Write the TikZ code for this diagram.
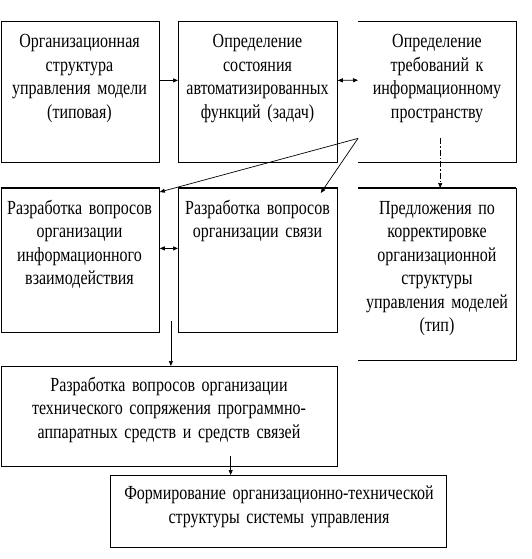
\documentclass[tikz,border=0pt]{standalone}
\usepackage{fontspec}
\setmainfont{Liberation Serif}[FakeStretch=0.8]
\usetikzlibrary{arrows.meta,calc}
\begin{document}
\begin{tikzpicture}[x=1pt,y=-1pt,
  frame/.style={line width=0.8pt},
  boxnode/.style={draw, frame, inner sep=0pt, anchor=north west},
  openbox/.style={inner sep=0pt, anchor=north west},
  txt/.style={font=\fontsize{20}{23.5}\selectfont, align=center, text width=230pt, inner sep=0pt, anchor=base},
  arr/.style={line width=0.7pt, -{Triangle[length=5pt,width=4pt]}},
  darr/.style={line width=0.7pt, {Triangle[length=5pt,width=4pt]}-{Triangle[length=5pt,width=4pt]}},
  dashdot/.style={line width=0.6pt, dash pattern=on 6pt off 2pt on 1.5pt off 2pt, -{Triangle[length=5pt,width=4pt]}},
  thicktop/.style={line width=1.8pt}]
\useasboundingbox (0,0) rectangle (531,559);
% boxes
\node[boxnode, minimum width=158.5pt, minimum height=141pt] (b1) at (0.5,21) {};
\node[boxnode, minimum width=159pt, minimum height=141pt] (b2) at (178,21) {};
\node[openbox, minimum width=158pt, minimum height=141pt] (b3) at (358,21) {};
\draw[frame] (b3.north west) -- (b3.north east) -- (b3.south east) -- (b3.south west);
\node[boxnode, minimum width=158.5pt, minimum height=144pt] (b4) at (0.5,188) {};
\node[boxnode, minimum width=159pt, minimum height=144pt] (b5) at (178,188) {};
\node[openbox, minimum width=158pt, minimum height=172pt] (b6) at (358,188) {};
\draw[frame] (b6.north west) -- (b6.north east) -- (b6.south east) -- (b6.south west);
\draw[thicktop] (b4.north west) -- (b4.north east);
\draw[thicktop] (b5.north west) -- (b5.north east);
\draw[thicktop] (b6.north west) -- (b6.north east);
\node[boxnode, minimum width=336.5pt, minimum height=100pt] (b7) at (0.5,366) {};
\node[boxnode, minimum width=336pt, minimum height=72pt] (b8) at (110,475) {};
% texts
\node[txt] (t1) at (79.5,48) {Организационная\\структура\\управления модели\\(типовая)};
\node[txt] (t2) at (257.5,48) {Определение\\состояния\\автоматизированных\\функций (задач)};
\node[txt] (t3) at (437,48) {Определение\\требований к\\информационному\\пространству};
\node[txt] (t4) at (79.5,214) {Разработка вопросов\\организации\\информационного\\взаимодействия};
\node[txt] (t5) at (257.5,214) {Разработка вопросов\\организации связи};
\node[txt] (t6) at (437,214) {Предложения по\\корректировке\\организационной\\структуры\\управления моделей\\(тип)};
\node[txt, text width=330pt] (t7) at (169,391) {Разработка вопросов организации\\технического сопряжения программно-\\аппаратных средств и средств связей};
\node[txt, text width=330pt, font=\fontsize{20}{24.5}\selectfont] (t8) at (279,499) {Формирование организационно-технической\\структуры системы управления};
% connectors
\draw[arr] ([yshift=11.5pt]b1.east) -- ([yshift=11.5pt]b2.west);
\draw[darr] ([yshift=11.5pt]b2.east) -- ([yshift=11.5pt]b3.west);
\coordinate (src) at ([yshift=24pt]b3.south west);
\draw[arr] (src) -- ([yshift=-4pt]b4.north east);
\draw[arr] (src) -- ([xshift=-17pt,yshift=-5pt]b5.north east);
\draw[dashdot] ([xshift=3pt,yshift=24pt]b3.south) -- ([xshift=3pt]b6.north);
\draw[darr] ([yshift=12pt]b4.east) -- ([yshift=12pt]b5.west);
\coordinate (gap) at ($(b4.south east)!0.5!(b5.south west)+(2,-12)$);
\draw[arr] (gap) -- (gap |- b7.north);
\coordinate (b7out) at ([xshift=61.5pt,yshift=11pt]b7.south);
\draw[arr] (b7out) -- (b7out |- b8.north);
\end{tikzpicture}
\end{document}
